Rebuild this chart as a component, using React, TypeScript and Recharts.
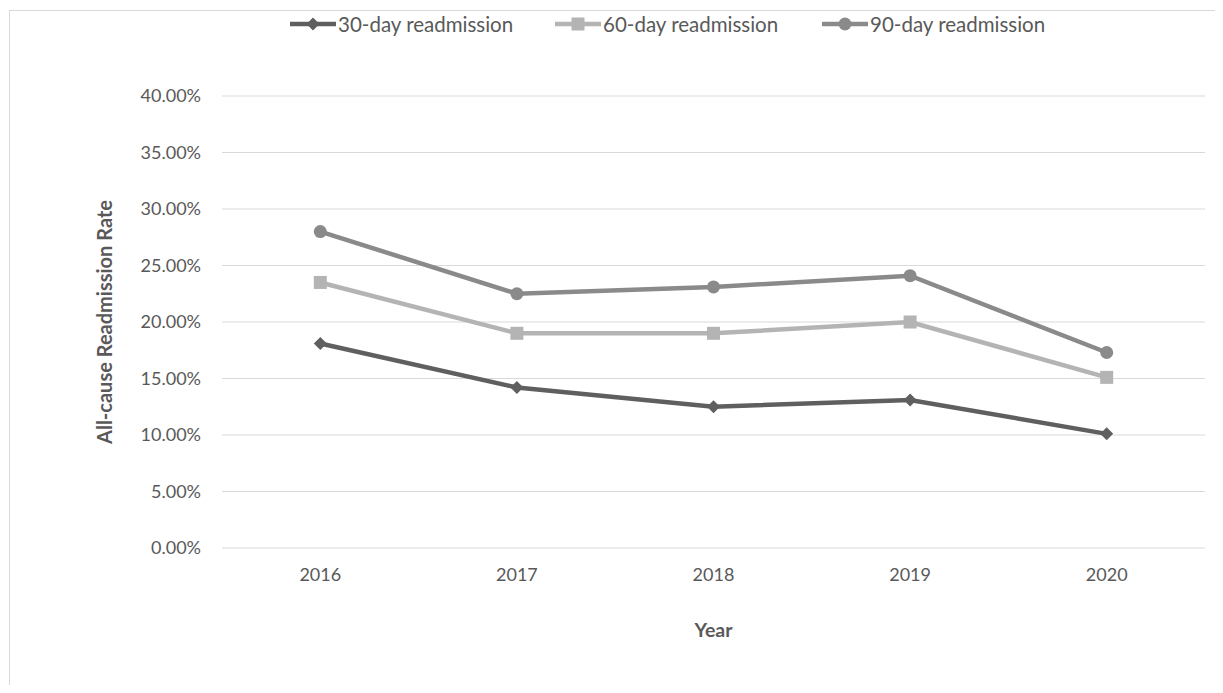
import {
  CartesianGrid,
  Legend,
  Line,
  LineChart,
  XAxis,
  YAxis,
} from "recharts";

const years = ["2016", "2017", "2018", "2019", "2020"];
const day30 = [18.1, 14.2, 12.5, 13.1, 10.1];
const day60 = [23.5, 19.0, 19.0, 20.0, 15.1];
const day90 = [28.0, 22.5, 23.1, 24.1, 17.3];
const yTicks = [0, 5, 10, 15, 20, 25, 30, 35, 40];

const seriesInfo = [
  { key: "d30", name: "30-day readmission", color: "#5f5f5f", shape: "diamond" },
  { key: "d60", name: "60-day readmission", color: "#b4b4b4", shape: "square" },
  { key: "d90", name: "90-day readmission", color: "#8a8a8a", shape: "circle" },
];

const legendLeft = [282, 547, 814];

const data = years.map((year, i) => ({
  year,
  d30: day30[i],
  d60: day60[i],
  d90: day90[i],
}));

const font = "Lato, 'Open Sans', sans-serif";
const textColor = "#595959";

function Marker({ shape, cx, cy, color }: { shape: string; cx: number; cy: number; color: string }) {
  if (shape === "diamond") {
    const s = 6.5;
    return (
      <polygon
        points={`${cx},${cy - s} ${cx + s},${cy} ${cx},${cy + s} ${cx - s},${cy}`}
        fill={color}
      />
    );
  }
  if (shape === "square") {
    const s = 6.5;
    return <rect x={cx - s} y={cy - s} width={s * 2} height={s * 2} fill={color} />;
  }
  return <circle cx={cx} cy={cy} r={6.5} fill={color} />;
}

function makeDot(shape: string, color: string) {
  return (props: any) => {
    const { cx, cy, index } = props;
    if (cx == null || cy == null) return <g key={`e-${shape}-${index}`} />;
    return (
      <g key={`${shape}-${index}`}>
        <Marker shape={shape} cx={cx} cy={cy} color={color} />
      </g>
    );
  };
}

function ChartLegend() {
  return (
    <div style={{ position: "relative", width: 1207, height: 36 }}>
      {seriesInfo.map((s, i) => (
        <div
          key={s.key}
          style={{
            position: "absolute",
            left: legendLeft[i],
            top: 4,
            display: "flex",
            alignItems: "center",
            fontFamily: font,
            fontSize: 20.5,
            color: textColor,
            whiteSpace: "nowrap",
          }}
        >
          <svg width={46} height={16}>
            <line x1={0} y1={8} x2={46} y2={8} stroke={s.color} strokeWidth={4.5} />
            <Marker shape={s.shape} cx={23} cy={8} color={s.color} />
          </svg>
          <span style={{ marginLeft: 2 }}>{s.name}</span>
        </div>
      ))}
    </div>
  );
}

export default function App() {
  return (
    <div style={{ position: "relative", width: 1207, height: 677, overflow: "hidden", background: "#fff" }}>
      <div
        style={{
          position: "absolute",
          left: 1,
          top: 2,
          width: 1400,
          height: 800,
          border: "1px solid #d9d9d9",
        }}
      />
      <div style={{ position: "absolute", left: 0, top: 0 }}>
        <LineChart
          width={1207}
          height={677}
          data={data}
          margin={{ top: 88, right: 10, bottom: 37, left: 0 }}
        >
          <CartesianGrid vertical={false} stroke="#d9d9d9" strokeWidth={1} />
          <XAxis
            dataKey="year"
            axisLine={false}
            tickLine={false}
            tickMargin={14}
            height={100}
            padding={{ left: 98.3, right: 98.3 }}
            tick={{ fill: textColor, fontSize: 18, fontFamily: font }}
            label={{
              value: "Year",
              position: "insideBottom",
              offset: 11,
              fill: textColor,
              fontSize: 19.5,
              fontWeight: 700,
              fontFamily: font,
            }}
          />
          <YAxis
            width={214}
            domain={[0, 40]}
            ticks={yTicks}
            axisLine={false}
            tickLine={false}
            tickMargin={15}
            tickFormatter={(v: number) => `${v.toFixed(2)}%`}
            tick={{ fill: textColor, fontSize: 18, fontFamily: font }}
            label={{
              value: "All-cause Readmission Rate",
              angle: -90,
              position: "insideLeft",
              offset: 97,
              fill: textColor,
              fontSize: 20,
              fontWeight: 700,
              fontFamily: font,
              style: { textAnchor: "middle" },
            }}
          />
          <Legend
            layout="horizontal"
            verticalAlign="middle"
            align="center"
            wrapperStyle={{ top: 0, left: 0, width: 1207 }}
            content={() => <ChartLegend />}
          />
          {seriesInfo.map((s) => (
            <Line
              key={s.key}
              type="linear"
              dataKey={s.key}
              name={s.name}
              stroke={s.color}
              strokeWidth={4.5}
              dot={makeDot(s.shape, s.color)}
              activeDot={false}
              isAnimationActive={false}
            />
          ))}
        </LineChart>
      </div>
    </div>
  );
}
